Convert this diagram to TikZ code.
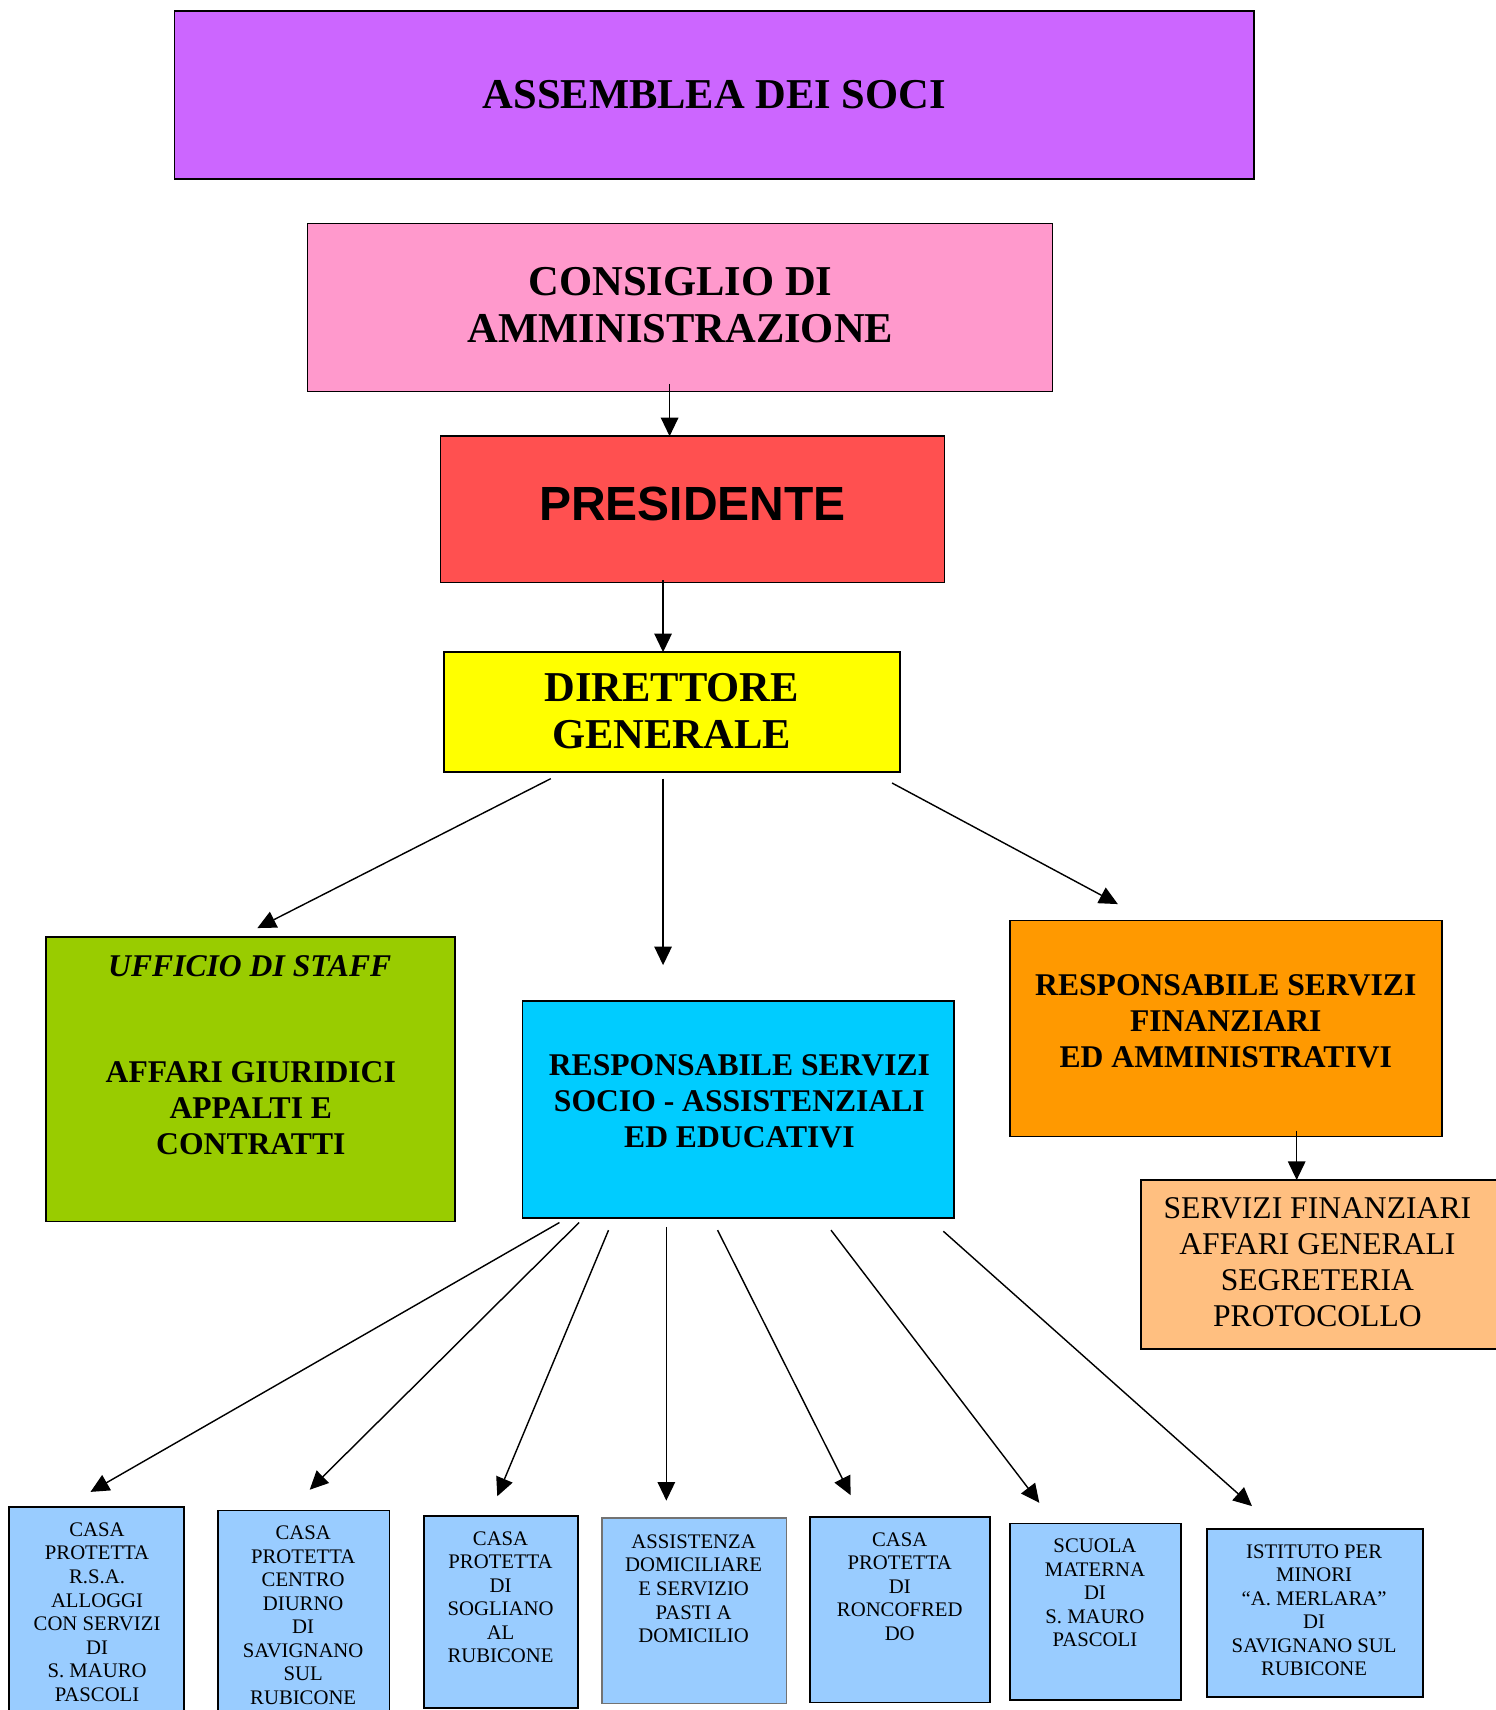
\documentclass[tikz,border=0pt]{standalone}
\usepackage{fontspec}
\setmainfont{Liberation Serif}
\newfontfamily\presfont{Liberation Sans}
\usetikzlibrary{arrows.meta}
\definecolor{cAsm}{HTML}{CC66FF}
\definecolor{cCons}{HTML}{FF99CC}
\definecolor{cPres}{HTML}{FF5050}
\definecolor{cDir}{HTML}{FFFF00}
\definecolor{cStaff}{HTML}{99CC00}
\definecolor{cSocio}{HTML}{00CCFF}
\definecolor{cFin}{HTML}{FF9900}
\definecolor{cServ}{HTML}{FFBF80}
\definecolor{cUnit}{HTML}{99CCFF}
\begin{document}
\begin{tikzpicture}[x=1pt,y=-1pt,
  box/.style={draw=black, line width=1.5pt, anchor=north west, inner sep=0pt, outer sep=0pt},
  txt/.style={inner sep=0pt, align=center, anchor=north, text=black},
  big/.style={font=\fontsize{39}{43}\selectfont\bfseries},
  mid/.style={font=\fontsize{29}{33}\selectfont\bfseries},
  small/.style={font=\fontsize{19}{21.6}\selectfont},
  arr/.style={line width=1.3pt, -{Triangle[length=17pt,width=16pt]}},
]
\useasboundingbox (0,0) rectangle (1371,1568);
\fill[white] (0,0) rectangle (1371,1568);

% top boxes
\node[box, fill=cAsm, minimum width=990pt, minimum height=154pt] (asm) at (160,10) {};
\node[txt, big, anchor=center] (asmT) at (655,87) {ASSEMBLEA DEI SOCI};

\node[box, fill=cCons, minimum width=683pt, minimum height=154pt] (cons) at (282,205) {};
\node[txt, big] (consT) at (624,245) {CONSIGLIO DI\\AMMINISTRAZIONE};

\node[box, fill=cPres, minimum width=462pt, minimum height=134pt] (pres) at (404,400) {};
\node[txt, anchor=center, font=\presfont\fontsize{44}{48}\selectfont\bfseries] (presT) at (635,462) {PRESIDENTE};

\node[box, fill=cDir, minimum width=418pt, minimum height=110pt] (dir) at (407,598) {};
\node[txt, big] (dirT) at (616,617) {DIRETTORE\\GENERALE};

% second level
\node[box, fill=cStaff, minimum width=375pt, minimum height=261pt] (staff) at (42,859) {};
\node[txt, font=\fontsize{29}{33}\selectfont\bfseries\itshape] (staffT) at (229,876) {UFFICIO DI STAFF};
\node[txt, mid] (staffT2) at (230,973) {AFFARI GIURIDICI\\APPALTI E\\CONTRATTI};

\node[box, fill=cSocio, minimum width=396pt, minimum height=199pt] (socio) at (479,918) {};
\node[txt, mid] (socioT) at (678,967) {RESPONSABILE SERVIZI\\SOCIO - ASSISTENZIALI\\ED EDUCATIVI};

\node[box, fill=cFin, minimum width=396pt, minimum height=198pt] (fin) at (926,844) {};
\node[txt, mid] (finT) at (1124,893) {RESPONSABILE SERVIZI\\FINANZIARI\\ED AMMINISTRATIVI};

\node[box, fill=cServ, minimum width=340pt, minimum height=155pt] (serv) at (1046,1082) {};
\node[txt, font=\fontsize{29}{33}\selectfont] (servT) at (1208,1098) {SERVIZI FINANZIARI\\AFFARI GENERALI\\SEGRETERIA\\PROTOCOLLO};

% bottom units
\node[box, fill=cUnit, minimum width=161pt, minimum height=200pt] (uA) at (8,1382) {};
\node[txt, small] (uAT) at (89,1396) {CASA\\PROTETTA\\R.S.A.\\ALLOGGI\\CON SERVIZI\\DI\\S. MAURO\\PASCOLI};

\node[box, fill=cUnit, minimum width=157pt, minimum height=200pt] (uB) at (200,1385) {};
\node[txt, small] (uBT) at (278,1399) {CASA\\PROTETTA\\CENTRO\\DIURNO\\DI\\SAVIGNANO\\SUL\\RUBICONE};

\node[box, fill=cUnit, minimum width=141pt, minimum height=176pt] (uC) at (389,1390) {};
\node[txt, small] (uCT) at (459,1404) {CASA\\PROTETTA\\DI\\SOGLIANO\\AL\\RUBICONE};

\node[box, draw=black!55, line width=1.2pt, fill=cUnit, minimum width=169pt, minimum height=170pt] (uD) at (552,1392) {};
\node[txt, small] (uDT) at (636,1407) {ASSISTENZA\\DOMICILIARE\\E SERVIZIO\\PASTI A\\DOMICILIO};

\node[box, fill=cUnit, minimum width=165pt, minimum height=170pt] (uE) at (743,1391) {};
\node[txt, small] (uET) at (825,1405) {CASA\\PROTETTA\\DI\\RONCOFRED\\DO};

\node[box, fill=cUnit, minimum width=157pt, minimum height=162pt] (uF) at (926,1397) {};
\node[txt, small] (uFT) at (1004,1411) {SCUOLA\\MATERNA\\DI\\S. MAURO\\PASCOLI};

\node[box, fill=cUnit, minimum width=198pt, minimum height=154pt] (uG) at (1107,1402) {};
\node[txt, small] (uGT) at (1205,1416) {ISTITUTO PER\\MINORI\\“A. MERLARA”\\DI\\SAVIGNANO SUL\\RUBICONE};

% connectors
\coordinate (c1) at (614,352);
\draw[arr] (c1) -- (c1 |- pres.north);
\coordinate (p1) at (608,532);
\draw[arr] (p1) -- (p1 |- dir.north);

\coordinate (d1) at (505,714); \coordinate (d1e) at (236,851);
\coordinate (d2) at (608,714); \coordinate (d2e) at (608,885);
\coordinate (d3) at (818,718); \coordinate (d3e) at (1025,829);
\draw[arr] (d1) -- (d1e);
\draw[arr] (d2) -- (d2e);
\draw[arr] (d3) -- (d3e);

\coordinate (f1) at (1189,1037);
\draw[arr] (f1) -- (f1 |- serv.north);

\coordinate (s1) at (513,1121); \coordinate (s1e) at (83,1368);
\coordinate (s2) at (531,1121); \coordinate (s2e) at (284,1366);
\coordinate (s3) at (558,1128); \coordinate (s3e) at (456,1372);
\coordinate (s4) at (611,1125); \coordinate (s4e) at (611,1376);
\coordinate (s5) at (658,1128); \coordinate (s5e) at (780,1371);
\coordinate (s6) at (762,1128); \coordinate (s6e) at (953,1378);
\coordinate (s7) at (865,1129); \coordinate (s7e) at (1148,1381);
\foreach \i in {1,...,7} {\draw[arr] (s\i) -- (s\i e);}
\end{tikzpicture}
\end{document}
